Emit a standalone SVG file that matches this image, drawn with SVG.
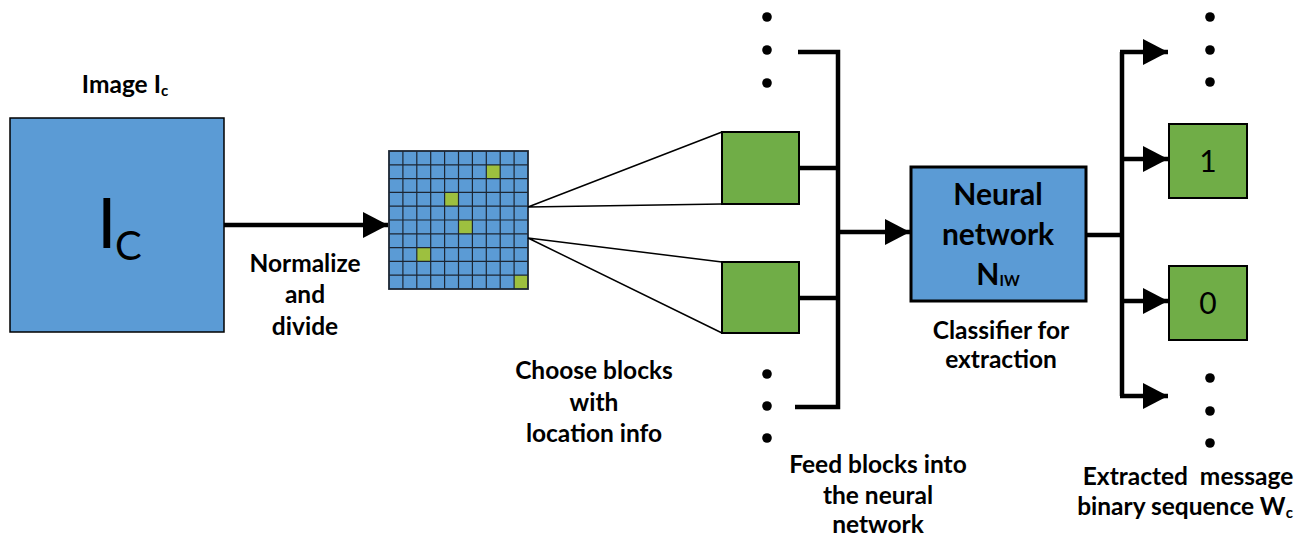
<svg xmlns="http://www.w3.org/2000/svg" width="1304" height="539" viewBox="0 0 1304 539">
<defs>
<style>
.lbl{font-family:Lato,"Open Sans","Liberation Sans",sans-serif;font-weight:bold;font-size:24.5px;fill:#000;text-anchor:middle;white-space:pre}
.nn{font-size:30px}
.sub{font-size:15px}
.blue{fill:#5B9BD5;stroke:#000;stroke-width:1.5}
.green{fill:#70AD47;stroke:#000;stroke-width:2}
.conn{fill:none;stroke:#000;stroke-width:4.5}
.fan{fill:none;stroke:#000;stroke-width:1.5}
.grid{fill:none;stroke:#1c2633;stroke-width:1.2}
.cell{fill:#9DC03F}
.dot{fill:#000}
.digit{font-family:Lato,"Open Sans","Liberation Sans",sans-serif;font-size:30px;fill:#000;text-anchor:middle}
</style>
<marker id="ah" markerWidth="25" markerHeight="26" refX="25" refY="13" markerUnits="userSpaceOnUse" orient="auto">
<path d="M0,0 L25,13 L0,26 Z" fill="#000"/>
</marker>
</defs>
<rect width="1304" height="539" fill="#fff"/>

<g id="image-ic">
<rect class="blue" x="10" y="118" width="214" height="214"/>
<text x="97" y="248" font-family="Lato,'Open Sans',sans-serif" font-size="70" fill="#000">I</text>
<text x="115" y="260" font-family="Lato,'Open Sans',sans-serif" font-size="40" fill="#000">C</text>
<text class="lbl" x="125" y="93">Image I<tspan class="sub" dy="3">c</tspan></text>
</g>

<g id="grid-node">
<rect x="389" y="151" width="139" height="138" fill="#5B9BD5"/>
<rect class="cell" x="486.3" y="164.8" width="13.9" height="13.8"/>
<rect class="cell" x="444.6" y="192.4" width="13.9" height="13.8"/>
<rect class="cell" x="458.5" y="220" width="13.9" height="13.8"/>
<rect class="cell" x="416.8" y="247.6" width="13.9" height="13.8"/>
<rect class="cell" x="514.1" y="275.2" width="13.9" height="13.8"/>
<path class="grid" d="M402.9,151V289M416.8,151V289M430.7,151V289M444.6,151V289M458.5,151V289M472.4,151V289M486.3,151V289M500.2,151V289M514.1,151V289M389,164.8H528M389,178.6H528M389,192.4H528M389,206.2H528M389,220H528M389,233.8H528M389,247.6H528M389,261.4H528M389,275.2H528"/>
<rect x="389" y="151" width="139" height="138" fill="none" stroke="#1c2633" stroke-width="1.8"/>
</g>

<g id="block-upper">
<rect class="green" x="722" y="132" width="77" height="72"/>
</g>
<g id="block-lower">
<rect class="green" x="722" y="262" width="77" height="71"/>
</g>

<g id="neural-network">
<rect x="911" y="167" width="175" height="134" fill="#5B9BD5" stroke="#000" stroke-width="3"/>
<text class="lbl nn" x="998" y="205">Neural</text>
<text class="lbl nn" x="998" y="245">network</text>
<text class="lbl nn" x="998" y="285">N<tspan class="sub" dy="1">IW</tspan></text>
</g>

<g id="bit-1">
<rect class="green" x="1169" y="124" width="78" height="74"/>
<text class="digit" x="1208" y="172">1</text>
</g>
<g id="bit-0">
<rect class="green" x="1169" y="266" width="78" height="74"/>
<text class="digit" x="1208" y="314">0</text>
</g>

<g id="dots">
<circle class="dot" cx="767" cy="17" r="4.8"/>
<circle class="dot" cx="767" cy="50" r="4.8"/>
<circle class="dot" cx="767" cy="83" r="4.8"/>
<circle class="dot" cx="767" cy="374" r="4.8"/>
<circle class="dot" cx="767" cy="406" r="4.8"/>
<circle class="dot" cx="767" cy="438" r="4.8"/>
<circle class="dot" cx="1210" cy="17" r="4.8"/>
<circle class="dot" cx="1210" cy="50" r="4.8"/>
<circle class="dot" cx="1210" cy="82" r="4.8"/>
<circle class="dot" cx="1210" cy="378" r="4.8"/>
<circle class="dot" cx="1210" cy="411" r="4.8"/>
<circle class="dot" cx="1210" cy="443" r="4.8"/>
</g>

<g id="connectors">
<line class="conn" x1="224" y1="225" x2="388" y2="225" marker-end="url(#ah)"/>
<path class="fan" d="M528,207 L722,132 M528,207 L722,204 M528,238 L722,262 M528,238 L722,333"/>
<path class="conn" d="M798,52 H838 V407 H795 M799,168 H838 M799,298 H838"/>
<line class="conn" x1="838" y1="232" x2="910" y2="232" marker-end="url(#ah)"/>
<path class="conn" d="M1086,235 H1122 M1122,52 V396"/>
<line class="conn" x1="1120" y1="52" x2="1168" y2="52" marker-end="url(#ah)"/>
<line class="conn" x1="1122" y1="159" x2="1168" y2="159" marker-end="url(#ah)"/>
<line class="conn" x1="1122" y1="301" x2="1168" y2="301" marker-end="url(#ah)"/>
<line class="conn" x1="1120" y1="396" x2="1168" y2="396" marker-end="url(#ah)"/>
</g>

<g id="labels">
<text class="lbl" x="305" y="272">Normalize</text>
<text class="lbl" x="305" y="303">and</text>
<text class="lbl" x="305" y="335">divide</text>
<text class="lbl" x="594" y="379">Choose blocks</text>
<text class="lbl" x="594" y="411">with</text>
<text class="lbl" x="594" y="442">location info</text>
<text class="lbl" x="878" y="473">Feed blocks into</text>
<text class="lbl" x="878" y="504">the neural</text>
<text class="lbl" x="878" y="533">network</text>
<text class="lbl" x="1001" y="339">Classifier for</text>
<text class="lbl" x="1001" y="368">extraction</text>
<text class="lbl" x="1188" y="485">Extracted  message</text>
<text class="lbl" x="1185" y="515">binary sequence W<tspan class="sub" dy="3">c</tspan></text>
</g>
</svg>
